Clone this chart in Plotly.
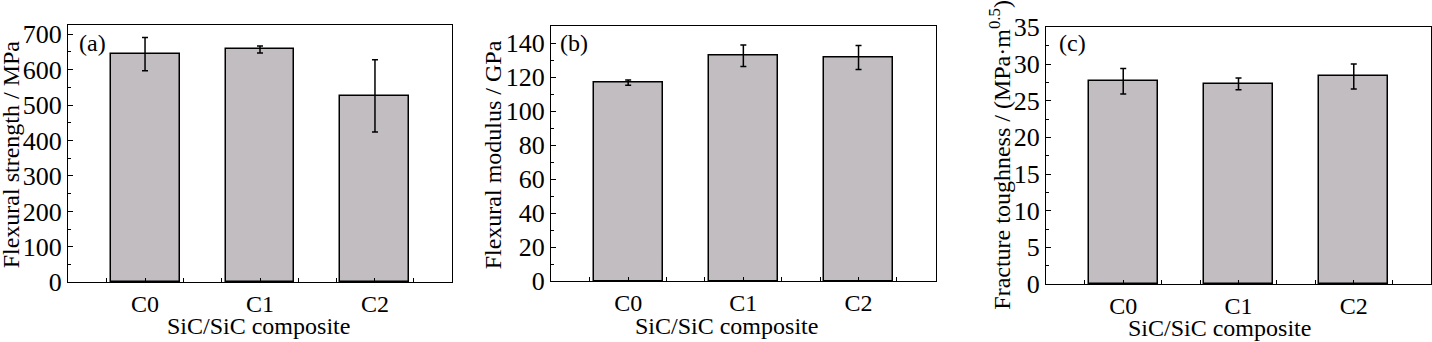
import plotly.graph_objects as go

# ---- data ----
categories = ["C0", "C1", "C2"]
strength = [644, 657, 526]
strength_err = [47, 10, 102]
modulus = [116.8, 132.6, 131.6]
modulus_err = [1.5, 6.3, 7.1]
toughness = [27.65, 27.3, 28.3]
toughness_err = [1.75, 0.8, 1.7]
panel_labels = ["(a)", "(b)", "(c)"]
y_titles = ["Flexural strength / MPa", "Flexural modulus / GPa",
            "Fracture toughness / (MPa\u00b7m<sup>0.5</sup>)"]
x_title = "SiC/SiC composite"

W, H = 1432, 342
FONT = "Liberation Serif"
FS = 24
BAR_FILL = "#c1bdc1"

def px_x(v):
    return v / W

def px_y(v):
    return 1 - v / H

xpos = list(range(len(categories)))

panels = [
    dict(vals=strength, err=strength_err, yr=[0, 726], dt=100, mdt=50,
         xd=[68, 452], yd=[282.3, 25], ytx=10.8, xtx=258.2, xty=325.5, lab=(77.3, 42.7)),
    dict(vals=modulus, err=modulus_err, yr=[0, 150.4], dt=20, mdt=10,
         xd=[551, 935.7], yd=[281, 25.5], ytx=492.8, xtx=727, xty=325.5, lab=(557.7, 42.7)),
    dict(vals=toughness, err=toughness_err, yr=[0, 35.05], dt=5, mdt=2.5,
         xd=[1046, 1431], yd=[284, 27], ytx=999.2, xtx=1219, xty=327.5, lab=(1056.7, 43.3)),
]

fig = go.Figure()
annotations = []
for i, p in enumerate(panels):
    n = "" if i == 0 else str(i + 1)
    fig.add_trace(go.Bar(
        x=xpos, y=p["vals"], width=0.6,
        marker=dict(color=BAR_FILL, line=dict(color="black", width=1.5)),
        error_y=dict(type="data", array=p["err"], visible=True,
                     color="black", thickness=1.5, width=3),
        xaxis="x" + n, yaxis="y" + n, showlegend=False,
    ))
    axis_common = dict(showline=True, mirror=True, linecolor="black", linewidth=1.3,
                       ticks="inside", showgrid=False, zeroline=False,
                       automargin=False)
    fig.layout["xaxis" + n] = dict(
        domain=[px_x(p["xd"][0]), px_x(p["xd"][1])],
        anchor="y" + n, range=[-0.67, 2.67],
        tickmode="array", tickvals=xpos, ticktext=categories, ticklen=4,
        tickcolor="black", tickwidth=1.2,
        tickfont=dict(family=FONT, size=FS, color="black"),
        minor=dict(ticks="inside", tick0=0, dtick=1 / 3, ticklen=4,
                   tickcolor="black", tickwidth=1.2, showgrid=False),
        **axis_common)
    fig.layout["yaxis" + n] = dict(
        domain=[px_y(p["yd"][0]), px_y(p["yd"][1])],
        anchor="x" + n, range=p["yr"], tick0=0, dtick=p["dt"], ticklen=5,
        tickcolor="black", tickwidth=1.2,
        tickfont=dict(family=FONT, size=26, color="black"),
        minor=dict(ticks="inside", dtick=p["mdt"], ticklen=3,
                   tickcolor="black", tickwidth=1.2, showgrid=False),
        **axis_common)
    # axis titles
    annotations.append(dict(
        text=y_titles[i], xref="paper", yref="paper", x=px_x(p["ytx"]),
        y=px_y(154.5), xanchor="center", yanchor="middle", textangle=-90,
        showarrow=False, font=dict(family=FONT, size=FS, color="black")))
    annotations.append(dict(
        text=x_title, xref="paper", yref="paper", x=px_x(p["xtx"]),
        y=px_y(p["xty"]), xanchor="center", yanchor="middle",
        showarrow=False, font=dict(family=FONT, size=FS, color="black")))
    annotations.append(dict(
        text=panel_labels[i], xref="paper", yref="paper", x=px_x(p["lab"][0]),
        y=px_y(p["lab"][1]), xanchor="left", yanchor="middle",
        showarrow=False, font=dict(family=FONT, size=FS, color="black")))

fig.update_layout(
    width=W, height=H, margin=dict(l=0, r=0, t=0, b=0),
    paper_bgcolor="white", plot_bgcolor="white",
    font=dict(family=FONT, size=FS, color="black"),
    annotations=annotations, bargap=0,
)
fig.write_html("out.html")
